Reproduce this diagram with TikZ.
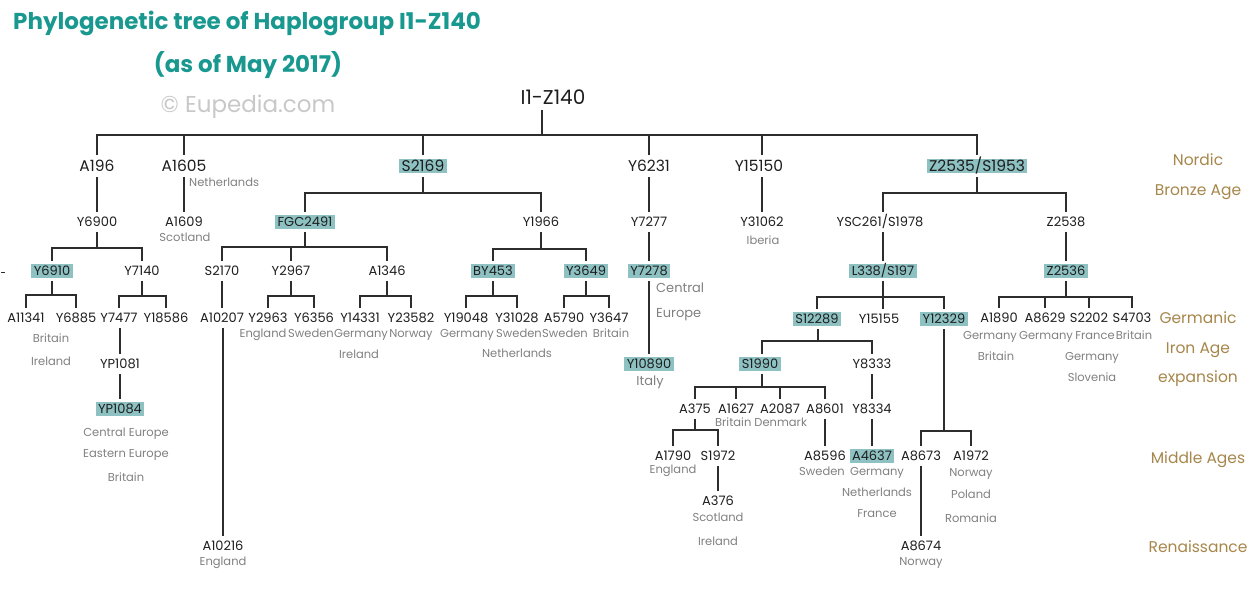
\documentclass[tikz,border=0pt]{standalone}
\usepackage{fontspec}
\setmainfont{Poppins}
\usetikzlibrary{calc}
\definecolor{edgecol}{RGB}{45,45,45}
\definecolor{hlcol}{RGB}{142,193,194}
\definecolor{geocol}{RGB}{128,128,128}
\definecolor{eracol}{RGB}{166,134,74}
\definecolor{titlecol}{RGB}{24,152,143}
\definecolor{copycol}{RGB}{200,200,200}
\definecolor{txtcol}{RGB}{30,30,30}
\begin{document}
\begin{tikzpicture}[x=1pt,y=-1pt,
  edge/.style={draw=edgecol,line width=1.8pt},
  nd/.style={font=\fontsize{13}{13}\selectfont, text=txtcol, inner xsep=2.5pt, inner ysep=2pt, outer sep=3.5pt, text height=9.1pt, text depth=0pt},
  big/.style={nd, font=\fontsize{15.5}{15.5}\selectfont, text height=10.8pt},
  hl/.style={fill=hlcol},
  geo/.style={font=\fontsize{11.5}{11.5}\selectfont, text=geocol, inner sep=0pt, text height=8pt, text depth=0pt},
  era/.style={font=\fontsize{15.5}{15.5}\selectfont, text=eracol, inner sep=0pt, text height=10.8pt, text depth=0pt},
  ttl/.style={font=\fontsize{23}{23}\selectfont\bfseries, text=titlecol, inner sep=0pt, text height=16pt, text depth=0pt},
]
\useasboundingbox (0,0) rectangle (1260,591);

% titles
\node[ttl, anchor=west] (title1) at (13,22) {Phylogenetic tree of Haplogroup I1-Z140};
\node[ttl] (title2) at (248,65) {(as of May 2017)};
\node[ttl, text=copycol, font=\fontsize{23}{23}\selectfont] (copy) at (248,105) {© Eupedia.com};

% era labels
\node[era] (e1) at (1198,160) {Nordic};
\node[era] (e2) at (1198,190) {Bronze Age};
\node[era] (e3) at (1198,318) {Germanic};
\node[era] (e4) at (1198,348) {Iron Age};
\node[era] (e5) at (1198,377) {expansion};
\node[era] (e6) at (1198,458) {Middle Ages};
\node[era] (e7) at (1198,547) {Renaissance};

% root
\node[nd, font=\fontsize{20}{20}\selectfont, text height=14pt] (root) at (553,98) {I1-Z140};
\coordinate (b0) at (542,135);

% level 1
\node[big] (A196) at (97,166) {A196};
\node[big] (A1605) at (184,166) {A1605};
\node[big,hl] (S2169) at (423,166) {S2169};
\node[big] (Y6231) at (649,166) {Y6231};
\node[big] (Y15150) at (759,166) {Y15150};
\node[big,hl] (Z2535) at (977,166) {Z2535/S1953};

\draw[edge] (root.south -| b0) -- (b0);
\draw[edge] (A196.north) |- (b0) -| (Z2535.north);
\foreach \n in {A1605,S2169,Y6231} \draw[edge] (\n.north) -- (\n.north |- b0);

% level 2
\node[nd] (Y6900) at (97,222) {Y6900};
\node[nd] (A1609) at (184,222) {A1609};
\node[nd,hl] (FGC2491) at (305,222) {FGC2491};
\node[nd] (Y1966) at (541,222) {Y1966};
\node[nd] (Y7277) at (649,222) {Y7277};
\node[nd] (Y31062) at (762,222) {Y31062};
\node[nd] (YSC261) at (880,222) {YSC261/S1978};
\node[nd] (Z2538) at (1066,222) {Z2538};

\draw[edge] (Y31062.north |- Y15150.north) -- (Y31062.north |- b0);

\node[geo, anchor=west] (gNeth) at (189,182) {Netherlands};
\node[geo] (gScot) at (185,237) {Scotland};
\node[geo] (gIber) at (763,240) {Iberia};

\draw[edge] (Y6900.north |- A196.south) -- (Y6900.north);
\draw[edge] (A1609.north |- A1605.south) -- (A1609.north);
\coordinate (b1) at (423,193);
\draw[edge] (S2169.south -| b1) -- (b1);
\draw[edge] (FGC2491.north) |- (b1) -| (Y1966.north);
\draw[edge] (Y7277.north |- Y6231.south) -- (Y7277.north);
\draw[edge] (Y31062.north |- Y15150.south) -- (Y31062.north);

% level 3
\node[nd,hl] (Y6910) at (52,271) {Y6910};
\node[nd] (Y7140) at (142,271) {Y7140};
\node[nd] (S2170) at (222,271) {S2170};
\node[nd] (Y2967) at (291,271) {Y2967};
\node[nd] (A1346) at (387,271) {A1346};
\node[nd,hl] (BY453) at (493,271) {BY453};
\node[nd,hl] (Y3649) at (586,271) {Y3649};
\node[nd,hl] (Y7278) at (649,271) {Y7278};
\node[nd,hl] (L338) at (883,271) {L338/S197};
\node[nd,hl] (Z2536) at (1066,271) {Z2536};

\coordinate (b2) at (977,193);
\draw[edge] (Z2535.south -| b2) -- (b2);
\draw[edge] (YSC261.north -| L338.north) |- (b2) -| (Z2538.north);

\draw[edge, line width=1pt] (1,272) -- (5,272);

\coordinate (b3) at (97,248);
\draw[edge] (Y6900.south -| b3) -- (b3);
\draw[edge] (Y6910.north) |- (b3) -| (Y7140.north);
\coordinate (b4) at (305,247);
\draw[edge] (FGC2491.south -| b4) -- (b4);
\draw[edge] (S2170.north) |- (b4) -| (A1346.north);
\draw[edge] (Y2967.north) -- (Y2967.north |- b4);
\coordinate (b5) at (541,249);
\draw[edge] (Y1966.south -| b5) -- (b5);
\draw[edge] (BY453.north) |- (b5) -| (Y3649.north);
\draw[edge] (Y7278.north |- Y7277.south) -- (Y7278.north);
\draw[edge] (L338.north |- YSC261.south) -- (L338.north);
\draw[edge] (Z2536.north |- Z2538.south) -- (Z2536.north);

% level 4
\node[nd] (A11341) at (26,318) {A11341};
\node[nd] (Y6885) at (76,318) {Y6885};
\node[nd] (Y7477) at (119,318) {Y7477};
\node[nd] (Y18586) at (166,318) {Y18586};
\node[nd] (A10207) at (222,318) {A10207};
\node[nd] (Y2963) at (268,318) {Y2963};
\node[nd] (Y6356) at (314,318) {Y6356};
\node[nd] (Y14331) at (360,318) {Y14331};
\node[nd] (Y23582) at (411,318) {Y23582};
\node[nd] (Y19048) at (466,318) {Y19048};
\node[nd] (Y31028) at (517,318) {Y31028};
\node[nd] (A5790) at (564,318) {A5790};
\node[nd] (Y3647) at (609,318) {Y3647};
\node[nd,hl] (S12289) at (817,319) {S12289};
\node[nd] (Y15155) at (879,319) {Y15155};
\node[nd,hl] (Y12329) at (944,319) {Y12329};
\node[nd] (A1890) at (999,318) {A1890};
\node[nd] (A8629) at (1045,318) {A8629};
\node[nd] (S2202) at (1089,318) {S2202};
\node[nd] (S4703) at (1132,318) {S4703};

\coordinate (b6) at (52,295);
\draw[edge] (Y6910.south -| b6) -- (b6);
\draw[edge] (A11341.north) |- (b6) -| (Y6885.north);
\coordinate (b7) at (142,296);
\draw[edge] (Y7140.south -| b7) -- (b7);
\draw[edge] (Y7477.north) |- (b7) -| (Y18586.north);
\draw[edge] (A10207.north |- S2170.south) -- (A10207.north);
\coordinate (b8) at (291,296);
\draw[edge] (Y2967.south -| b8) -- (b8);
\draw[edge] (Y2963.north) |- (b8) -| (Y6356.north);
\coordinate (b9) at (387,296);
\draw[edge] (A1346.south -| b9) -- (b9);
\draw[edge] (Y14331.north) |- (b9) -| (Y23582.north);
\coordinate (b10) at (493,296);
\draw[edge] (BY453.south -| b10) -- (b10);
\draw[edge] (Y19048.north) |- (b10) -| (Y31028.north);
\coordinate (b11) at (586,296);
\draw[edge] (Y3649.south -| b11) -- (b11);
\draw[edge] (A5790.north) |- (b11) -| (Y3647.north);
\coordinate (b12) at (883,297);
\draw[edge] (L338.south -| b12) -- (b12);
\draw[edge] (S12289.north) |- (b12) -| (Y12329.north);
\draw[edge] (Y15155.north -| b12) -- (b12);
\coordinate (b13) at (1066,297);
\draw[edge] (Z2536.south -| b13) -- (b13);
\draw[edge] (A1890.north) |- (b13) -| (S4703.north);
\draw[edge] (A8629.north) -- (A8629.north |- b13);
\draw[edge] (S2202.north) -- (S2202.north |- b13);

% level 4 geography
\node[geo] (g1) at (51,338) {Britain};
\node[geo] (g2) at (51,361) {Ireland};
\node[geo] (g3) at (263,333) {England};
\node[geo] (g4) at (311,333) {Sweden};
\node[geo] (g5) at (361,333) {Germany};
\node[geo] (g6) at (411,333) {Norway};
\node[geo] (g7) at (359,354) {Ireland};
\node[geo] (g8) at (467,333) {Germany};
\node[geo] (g9) at (519,333) {Sweden};
\node[geo] (g10) at (565,333) {Sweden};
\node[geo] (g11) at (611,333) {Britain};
\node[geo] (g12) at (517,353) {Netherlands};
\node[geo] (g13) at (990,335) {Germany};
\node[geo] (g14) at (1046,335) {Germany};
\node[geo] (g15) at (1095,335) {France};
\node[geo] (g16) at (1134,335) {Britain};
\node[geo] (g17) at (996,356) {Britain};
\node[geo] (g18) at (1092,356) {Germany};
\node[geo] (g19) at (1092,377) {Slovenia};

% deeper branches, left
\node[nd] (YP1081) at (120,364) {YP1081};
\node[nd,hl] (YP1084) at (120,409) {YP1084};
\draw[edge] (YP1081.north |- Y7477.south) -- (YP1081.north);
\draw[edge] (YP1084.north |- YP1081.south) -- (YP1084.north);
\node[geo] (g20) at (126,432) {Central Europe};
\node[geo] (g21) at (126,453) {Eastern Europe};
\node[geo] (g22) at (126,477) {Britain};

\node[nd] (A10216) at (223,546) {A10216};
\draw[edge] (A10216.north |- A10207.south) -- (A10216.north);
\node[geo] (g23) at (223,561) {England};

\node[nd,hl] (Y10890) at (649,364) {Y10890};
\draw[edge] (Y10890.north |- Y7278.south) -- (Y10890.north);
\node[geo, font=\fontsize{13}{13}\selectfont, text height=9pt, anchor=west] (g24) at (656,288) {Central};
\node[geo, font=\fontsize{13}{13}\selectfont, text height=9pt, anchor=west] (g25) at (656,313) {Europe};
\node[geo, font=\fontsize{13}{13}\selectfont, text height=9pt] (g26) at (650,381) {Italy};

% deeper branches, right
\coordinate (b14) at (818,341);
\coordinate (b15) at (762,387);
\node[nd,hl] (S1990) at (760,364) {S1990};
\node[nd] (Y8333) at (872,364) {Y8333};
\draw[edge] (S12289.south -| b14) -- (b14);
\draw[edge] (S1990.north -| b15) |- (b14) -| (Y8333.north);

\node[nd] (A375) at (695,409) {A375};
\node[nd] (A1627) at (736,409) {A1627};
\node[nd] (A2087) at (780,409) {A2087};
\node[nd] (A8601) at (825,409) {A8601};
\draw[edge] (S1990.south -| b15) -- (b15);
\draw[edge] (A375.north) |- (b15) -| (A8601.north);
\draw[edge] (A1627.north) -- (A1627.north |- b15);
\draw[edge] (A2087.north) -- (A2087.north |- b15);
\node[geo] (g27) at (761,422) {Britain Denmark};

\node[nd] (Y8334) at (872,409) {Y8334};
\draw[edge] (Y8334.north |- Y8333.south) -- (Y8334.north);

\node[nd] (A1790) at (673,456) {A1790};
\node[nd] (S1972) at (718,456) {S1972};
\coordinate (b16) at (695,430);
\draw[edge] (A375.south -| b16) -- (b16);
\draw[edge] (A1790.north) |- (b16) -| (S1972.north);
\node[geo] (g28) at (673,469) {England};

\node[nd] (A376) at (718,501) {A376};
\draw[edge] (A376.north |- S1972.south) -- (A376.north);
\node[geo] (g29) at (718,517) {Scotland};
\node[geo] (g30) at (718,541) {Ireland};

\node[nd] (A8596) at (825,456) {A8596};
\draw[edge] (A8596.north |- A8601.south) -- (A8596.north);
\node[geo] (g31) at (822,471) {Sweden};

\node[nd,hl] (A4637) at (872,456) {A4637};
\draw[edge] (A4637.north |- Y8334.south) -- (A4637.north);
\node[geo] (g32) at (877,471) {Germany};
\node[geo] (g33) at (877,492) {Netherlands};
\node[geo] (g34) at (877,513) {France};

\node[nd] (A8673) at (921,456) {A8673};
\node[nd] (A1972) at (971,456) {A1972};
\coordinate (b17) at (944,431);
\draw[edge] (Y12329.south -| b17) -- (b17);
\draw[edge] (A8673.north) |- (b17) -| (A1972.north);
\node[geo] (g35) at (971,472) {Norway};
\node[geo] (g36) at (971,494) {Poland};
\node[geo] (g37) at (971,518) {Romania};

\node[nd] (A8674) at (921,546) {A8674};
\draw[edge] (A8674.north |- A8673.south) -- (A8674.north);
\node[geo] (g38) at (921,561) {Norway};
\end{tikzpicture}
\end{document}
